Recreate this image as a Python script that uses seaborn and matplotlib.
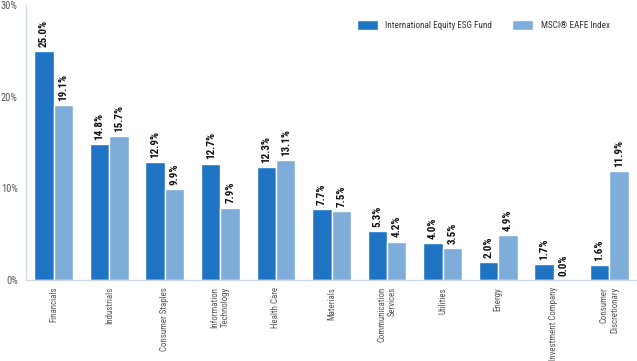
import matplotlib
matplotlib.use("Agg")
import matplotlib.pyplot as plt
import seaborn as sns
import pandas as pd
from matplotlib import font_manager

categories = ["Financials", "Industrials", "Consumer Staples", "Information\nTechnology",
              "Health Care", "Materials", "Communication\nServices", "Utilities",
              "Energy", "Investment Company", "Consumer\nDiscretionary"]
fund = [25.0, 14.8, 12.9, 12.7, 12.3, 7.7, 5.3, 4.0, 2.0, 1.7, 1.6]
index = [19.1, 15.7, 9.9, 7.9, 13.1, 7.5, 4.2, 3.5, 4.9, 0.0, 11.9]
series = ["International Equity ESG Fund", "MSCI\u00ae EAFE Index"]
yticks = [0, 10, 20, 30]

names = {f.name for f in font_manager.fontManager.ttflist}
fam = "Roboto"
for cand in ["Roboto Condensed", "Archivo Narrow", "Asap Condensed", "Liberation Sans Narrow"]:
    if cand in names:
        fam = cand
        break

sns.set_theme(style="white")
plt.rcParams['font.family'] = [fam, 'DejaVu Sans']

df = pd.DataFrame({
    "cat": categories * 2,
    "val": fund + index,
    "series": [series[0]] * len(categories) + [series[1]] * len(categories),
})

fig = plt.figure(figsize=(6.37, 3.61), dpi=100)
ax = fig.add_axes([26/637, 1 - 280/361, 611/637, 275/361])
sns.barplot(data=df, x="cat", y="val", hue="series", order=categories,
            hue_order=series, palette=["#1f74c4", "#7fadda"], saturation=1,
            width=0.7, edgecolor="white", linewidth=1.0, ax=ax, legend=True)

ax.set_ylim(0, 30)
ax.set_xlim(-0.5, len(categories) - 0.5)
ax.set_yticks(yticks)
ax.set_yticklabels([f"{t}%" for t in yticks], color="#555555", fontsize=7.5)
ax.tick_params(axis="y", length=0, pad=6)
ax.tick_params(axis="x", length=0, pad=5)
ax.set_xticks(range(len(categories)))
ax.set_xticklabels(categories, rotation=90, fontsize=6.4, color="#555555",
                   va="top", ha="center", multialignment="right")
ax.set_xlabel("")
ax.set_ylabel("")
for s in ["top", "right"]:
    ax.spines[s].set_visible(False)
for s in ["left", "bottom"]:
    ax.spines[s].set_color("#cdd9ec")
    ax.spines[s].set_linewidth(1.0)

for cont in ax.containers:
    ax.bar_label(cont, labels=[f"{v:.1f}%" for v in cont.datavalues], rotation=90,
                 padding=3, fontsize=8, fontweight="bold", color="#111111")

leg = ax.legend(loc="center right", bbox_to_anchor=(0.955, 0.927), ncol=2, frameon=False,
                fontsize=6.6, handlelength=2.3, handleheight=1.2, columnspacing=2.2,
                handletextpad=0.78, borderaxespad=0, borderpad=0)
for t in leg.get_texts():
    t.set_color("#333333")

fig.savefig("out.png", dpi=100)
